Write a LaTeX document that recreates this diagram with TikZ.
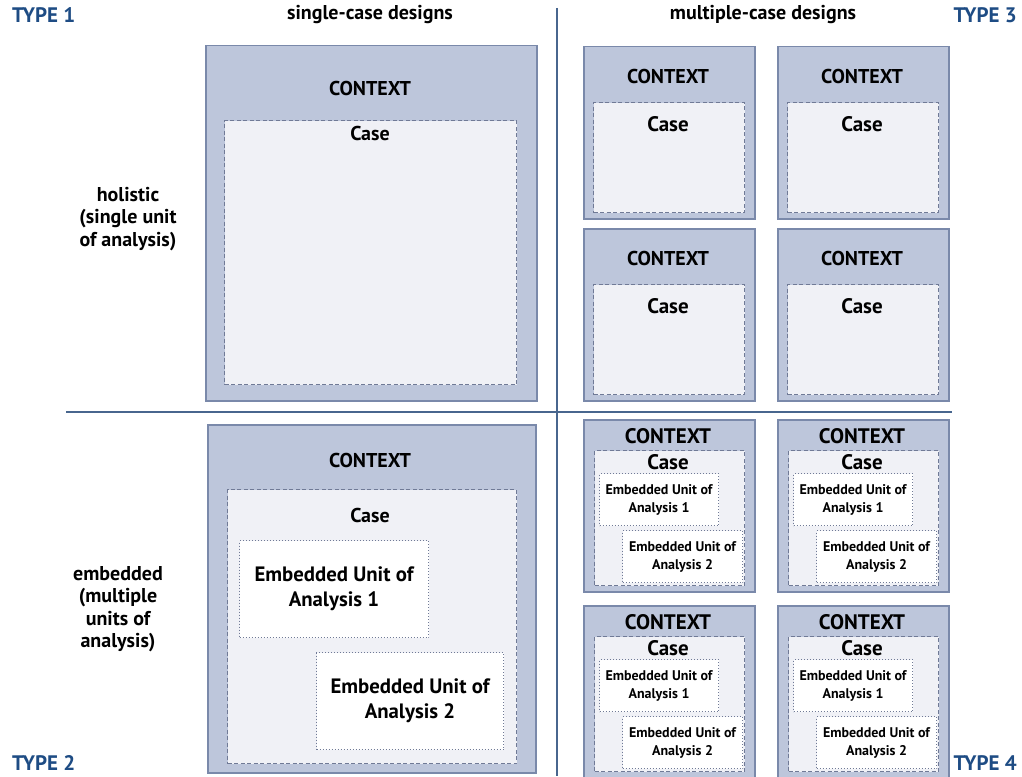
\documentclass[tikz,border=0pt]{standalone}
\usepackage{fontspec}
\setmainfont{PT Sans}
\usepackage{xcolor}
\usepackage{tikz}
\usetikzlibrary{positioning}
\definecolor{ctxfill}{RGB}{189,198,219}
\definecolor{ctxline}{RGB}{122,137,170}
\definecolor{casefill}{RGB}{240,241,246}
\definecolor{caseline}{RGB}{112,122,150}
\definecolor{divline}{RGB}{72,102,142}
\definecolor{typeblue}{RGB}{30,76,132}
\tikzstyle{ctxbox} = [rectangle, draw=ctxline, fill=ctxfill, line width=1.5pt, inner sep=0pt, anchor=north west]
\tikzstyle{casebox} = [rectangle, draw=caseline, fill=casefill, line width=1.3pt, dash pattern=on 4pt off 2.5pt, inner sep=0pt, anchor=north west]
\tikzstyle{unitbox} = [rectangle, draw=caseline, fill=white, line width=1pt, dotted, inner sep=0pt, anchor=north west, align=center]
\tikzstyle{bigtext} = [font=\bfseries\fontsize{20}{22.5}\selectfont, align=center]
\tikzstyle{boxtext} = [font=\bfseries\fontsize{20}{22}\selectfont]
\tikzstyle{gridtext} = [font=\bfseries\fontsize{21}{22}\selectfont]
\tikzstyle{smalltext} = [font=\bfseries\fontsize{14}{18}\selectfont]
\tikzstyle{typelabel} = [font=\bfseries\fontsize{21}{22}\selectfont, text=typeblue, inner sep=0pt]

\begin{document}
\begin{tikzpicture}[x=1pt, y=-1pt]
\useasboundingbox (0, 0) rectangle (1022, 776);
% dividers
\coordinate (vtop) at (557, 8);
\coordinate (vbot) at (557, 776);
\coordinate (hleft) at (66, 412);
\coordinate (hright) at (952, 412);
\draw [draw=divline, line width=1.8pt] (vtop) -- (vbot);
\draw [draw=divline, line width=1.8pt] (hleft) -- (hright);
% headings
\node [typelabel, anchor=west] (T1) at (12, 15) {TYPE 1};
\node [typelabel, anchor=east] (T3) at (1017, 15) {TYPE 3};
\node [typelabel, anchor=west] (T2) at (12, 763) {TYPE 2};
\node [typelabel, anchor=east] (T4) at (1017, 763) {TYPE 4};
\node [bigtext] (single) at (370, 15) {single-case designs};
\node [bigtext] (multi) at (763, 15) {multiple-case designs};
\node [bigtext] (holistic) at (128, 219) {holistic\\(single unit\\of analysis)};
\node [bigtext] (embedded) at (118, 609) {embedded\\(multiple\\units of\\analysis)};
% type 1
\node [ctxbox, minimum width=331, minimum height=355] (C1) at (205, 45) {};
\node [boxtext] (C1lab) at (370, 88) {CONTEXT};
\node [casebox, minimum width=292, minimum height=264] (K1) at (224, 120) {};
\node [boxtext] (K1lab) at (370, 133) {Case};
% type 3
\foreach \x/\y [count=\i] in {583/46, 777/46, 583/228, 777/228} {
  \node [ctxbox, minimum width=171, minimum height=172] (C3-\i) at (\x, \y) {};
  \node [boxtext] (C3lab-\i) at (\x+85, \y+30) {CONTEXT};
  \node [casebox, minimum width=151, minimum height=110] (K3-\i) at (\x+10, \y+56) {};
  \node [gridtext] (K3lab-\i) at (\x+85, \y+78) {Case};
}
% type 2
\node [ctxbox, minimum width=328, minimum height=348] (C2) at (207, 424) {};
\node [boxtext] (C2lab) at (370, 460) {CONTEXT};
\node [casebox, minimum width=289, minimum height=274] (K2) at (227, 489) {};
\node [boxtext] (K2lab) at (370, 515) {Case};
\node [unitbox, minimum width=189, minimum height=97, font=\bfseries\fontsize{20.8}{25}\selectfont] (U2a) at (239, 540) {Embedded Unit of\\Analysis 1};
\node [unitbox, minimum width=187, minimum height=97, font=\bfseries\fontsize{20.8}{25}\selectfont] (U2b) at (316, 652) {Embedded Unit of\\Analysis 2};
% type 4
\foreach \x/\y [count=\i] in {583/419, 777/419, 583/605, 777/605} {
  \node [ctxbox, minimum width=171, minimum height=172] (C4-\i) at (\x, \y) {};
  \node [gridtext] (C4lab-\i) at (\x+85, \y+17) {CONTEXT};
  \node [casebox, minimum width=150, minimum height=135] (K4-\i) at (\x+11, \y+31) {};
  \node [gridtext] (K4lab-\i) at (\x+85, \y+43) {Case};
  \node [unitbox, smalltext, minimum width=119, minimum height=52] (U4a-\i) at (\x+16, \y+54) {Embedded Unit of\\Analysis 1};
  \node [unitbox, smalltext, minimum width=120, minimum height=52] (U4b-\i) at (\x+39, \y+111) {Embedded Unit of\\Analysis 2};
}
\end{tikzpicture}
\end{document}
